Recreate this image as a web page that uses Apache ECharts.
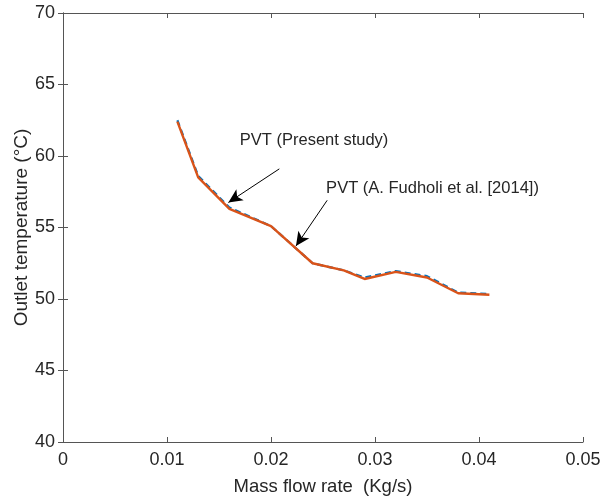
<!DOCTYPE html>
<html><head><meta charset="utf-8">
<script src="https://cdn.jsdelivr.net/npm/echarts@6/dist/echarts.min.js"></script>
<style>html,body{margin:0;padding:0;background:#fff}#c{width:602px;height:500px}</style>
</head><body><div id="c"></div>
<script>
const massFlow = [0.011, 0.013, 0.016, 0.020, 0.024, 0.027, 0.029, 0.032, 0.035, 0.038, 0.041];
const tempFudholi = [62.5, 58.6, 56.4, 55.1, 52.5, 52.0, 51.5, 51.95, 51.6, 50.45, 50.35];
const tempPresent = [62.4, 58.5, 56.3, 55.1, 52.5, 52.0, 51.4, 51.9, 51.5, 50.4, 50.3];
const label1 = 'PVT (Present study)';
const label2 = 'PVT (A. Fudholi et al. [2014])';
const arrow1 = [[0.0208, 59.1], [0.0159, 56.75]];
const arrow2 = [[0.0254, 56.9], [0.0224, 53.7]];
const text1Pos = [0.0170, 61.1];
const text2Pos = [0.0253, 57.75];

const font = 'Liberation Sans, Arial, sans-serif';
const txt = '#262626';
const axisCol = '#555555';
const chart = echarts.init(document.getElementById('c'));
const pair = (xs, ys) => xs.map((x, i) => [x, ys[i]]);
chart.setOption({
  animation: false,
  grid: {left: 63, right: 19, top: 13, bottom: 58, containLabel: false, outerBoundsMode: 'none'},
  xAxis: [{
    type: 'value', min: 0, max: 0.05, interval: 0.01,
    name: 'Mass flow rate  (Kg/s)', nameLocation: 'middle', nameGap: 35, nameMoveOverlap: false,
    nameTextStyle: {fontFamily: font, fontSize: 18.5, color: txt},
    axisLine: {show: true, lineStyle: {color: axisCol}},
    axisTick: {inside: true, length: 5, lineStyle: {color: axisCol}},
    axisLabel: {fontFamily: font, fontSize: 18, color: txt, margin: 9, formatter: v => v === 0 ? '0' : v.toFixed(2)},
    splitLine: {show: false}
  }, {
    type: 'value', min: 0, max: 0.05, interval: 0.01, position: 'top',
    axisLine: {show: true, lineStyle: {color: axisCol}},
    axisTick: {inside: true, length: 5, lineStyle: {color: axisCol}},
    axisLabel: {show: false}, splitLine: {show: false}
  }],
  yAxis: [{
    type: 'value', min: 40, max: 70, interval: 5,
    name: 'Outlet temperature (°C)', nameLocation: 'middle', nameGap: 32, nameMoveOverlap: false,
    nameTextStyle: {fontFamily: font, fontSize: 19, color: txt},
    axisLine: {show: true, lineStyle: {color: axisCol}},
    axisTick: {show: true, inside: true, length: 5, lineStyle: {color: axisCol}},
    axisLabel: {fontFamily: font, fontSize: 18, color: txt, margin: 8},
    splitLine: {show: false}
  }, {
    type: 'value', min: 40, max: 70, interval: 5, position: 'right',
    axisLine: {show: true, lineStyle: {color: axisCol}},
    axisTick: {show: true, inside: true, length: 5, lineStyle: {color: axisCol}},
    axisLabel: {show: false}, splitLine: {show: false}
  }],
  series: [{
    type: 'line', data: pair(massFlow, tempFudholi), symbol: 'none',
    lineStyle: {color: '#0072BD', width: 2.2, type: [6, 4]}, z: 2
  }, {
    type: 'line', data: pair(massFlow, tempPresent), symbol: 'none',
    lineStyle: {color: '#D95319', width: 2.4}, z: 3,
    markLine: {
      silent: true, symbol: ['none', 'arrow'], symbolSize: [10, 14],
      lineStyle: {color: '#000', width: 1, type: 'solid'},
      label: {show: false},
      data: [
        [{coord: arrow1[0]}, {coord: arrow1[1]}],
        [{coord: arrow2[0]}, {coord: arrow2[1]}]
      ]
    },
    markPoint: {
      symbol: 'circle', symbolSize: 0, silent: true,
      label: {show: true, position: 'right', distance: 0, fontFamily: font, fontSize: 16.5, color: txt, formatter: p => p.name},
      data: [
        {name: label1, coord: text1Pos},
        {name: label2, coord: text2Pos}
      ]
    }
  }]
});
</script></body></html>
